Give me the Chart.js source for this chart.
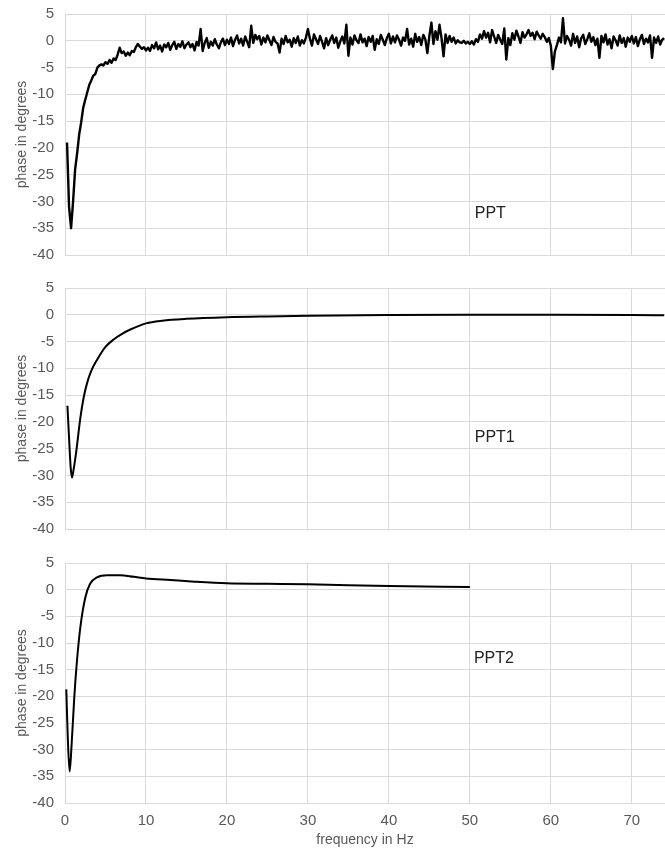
<!DOCTYPE html>
<html><head><meta charset="utf-8">
<script src="https://cdn.jsdelivr.net/npm/chart.js@4.4.1/dist/chart.umd.min.js"></script>
<style>
html,body{margin:0;padding:0;background:#fff;width:665px;height:852px;overflow:hidden}
canvas{position:absolute;left:0}
</style></head>
<body>
<canvas id="c1" style="top:0px" width="665" height="270"></canvas>
<canvas id="c2" style="top:270px" width="665" height="275"></canvas>
<canvas id="c3" style="top:545px" width="665" height="307"></canvas>
<script>
// ---------- data ----------
const panelNames = ['PPT', 'PPT1', 'PPT2'];
const yAxisTitle = 'phase in degrees';
const xAxisTitle = 'frequency in Hz';
const xTickLabels = ['0', '10', '20', '30', '40', '50', '60', '70'];

// PPT (measured, noisy): sampled every 0.25 Hz starting at 0.25 Hz
const pptFirstFreq = 0.25;
const pptFreqStep = 0.25;
const pptPhase = [
  -19, -31, -35, -30, -24, -21, -17.5, -15.2, -12.5, -11, -9.6, -8.2, -7.4, -6.5, -6.2, -5, -4.6, -4.4, -4.6, -4.0,
  -4.3, -3.6, -4.1, -3.3, -3.6, -2.6, -1.3, -2.3, -2.0, -2.8, -2.2, -2.7, -1.9, -2.1, -1.2, -0.6, -1.1, -1.5, -1.2, -1.8,
  -1.3, -1.9, -0.8, -1.4, -0.3, -1.6, -0.9, -2.0, -0.7, -1.2, -0.4, -1.7, -0.8, -0.2, -1.5, -0.6, -1.1, -0.1, -1.4, -0.7,
  -0.3, -1.2, -0.6, -1.8, -0.2, -0.9, 2.2, -1.9, -0.4, 0.5, -1.3, -0.2, -0.9, 0.3, -0.7, -1.4, -0.3, 0.4, -0.8, 0.2,
  -0.6, 0.6, -1.0, 0.2, 1.0, -0.5, 0.4, -0.9, 0.8, -0.2, -1.2, 2.8, -0.4, 1.1, 0.3, 0.9, -0.7, 0.6, -0.3, 1.0,
  0.1, -0.8, 0.7, -0.2, -0.5, -2.2, 0.4, -0.6, 0.9, -0.3, 0.2, -1.1, 0.5, -0.4, 0.8, -0.9, 0.1, -0.5, 0.6, 2.2,
  0.4, -0.9, 1.2, 0.3, -0.6, 0.9, -0.2, -1.4, 0.5, -0.8, 0.2, 1.0, -0.4, 0.6, -1.3, -0.1, 0.8, -0.5, 3.0, -2.8,
  0.6, -0.7, 1.0, 0.1, -0.4, 1.2, -0.3, 0.4, -1.0, 0.7, -0.2, 0.9, -1.7, 0.3, -0.6, 1.1, 0.2, -0.8, 0.5, 1.3,
  -0.5, 0.8, -0.3, 1.0, 0.2, -0.9, 0.6, 0.0, 2.2, -0.7, 0.4, -1.1, 1.3, -0.2, 0.7, -0.8, 1.1, 0.3, -2.3, 0.9,
  3.4, -0.6, 1.8, 0.2, 3.0, 0.5, -2.9, 1.2, -0.4, 0.9, -0.2, 0.6, -0.5, 0.1, -0.3, -0.4, 0.0, -0.5, -0.2, -0.6,
  -0.1, -0.7, 0.3, -0.2, 1.2, 0.4, 1.8, 0.6, 1.5, -0.3, 2.0, 0.8, -0.4, 1.1, 0.2, -0.6, 2.3, -3.5, 0.5, -0.8,
  1.4, 0.2, 1.9, 0.8, -0.4, 1.6, 0.6, 1.2, 2.0, 0.9, 1.5, 0.3, 1.7, 1.0, 0.4, 1.3, 0.7, -0.2, 0.5, -0.9,
  -5.3, -2.0, -0.8, 0.6, -0.3, 4.2, -0.5, 0.9, 0.2, -0.9, 1.3, -0.4, 0.8, -1.2, 0.5, 1.1, -0.6, 0.3, 1.4, -0.2,
  0.7, -0.8, 0.4, -3.2, 0.9, -0.3, 1.2, -0.7, 0.3, -1.4, 0.8, 0.1, -0.9, 1.0, -0.4, 0.5, -1.1, 0.6, -0.2, 0.9,
  -0.5, 0.7, -1.0, 0.3, 1.1, -0.6, 0.4, -0.3, 1.0, -3.2, 0.6, -0.4, 0.8, -0.7, 0.2, 0.5
];

// PPT1 (smooth model)
const ppt1Freq  = [0.3, 0.5, 0.7, 0.86, 1.05, 1.4, 1.9, 2.3, 2.7, 3.2, 4.0, 5.0, 6.0, 7.0, 8.0, 10, 12, 15, 20, 25, 30, 40, 50, 60, 70, 74];
const ppt1Phase = [-17, -23, -28.5, -30.4, -29, -25.4, -19.2, -15.5, -12.9, -10.6, -8.3, -6.0, -4.6, -3.6, -2.8, -1.6, -1.1, -0.75, -0.45, -0.3, -0.2, -0.05, 0.0, 0.0, -0.05, -0.1];

// PPT2 (smooth model, up to 50 Hz)
const ppt2Freq  = [0.16, 0.35, 0.57, 0.8, 1.15, 1.48, 1.89, 2.5, 3.1, 3.95, 5.2, 6.8, 8.5, 10, 13, 16, 20, 25, 30, 40, 50];
const ppt2Phase = [-18.7, -28, -34.1, -29.5, -20.1, -13.3, -7.1, -1.5, 1.1, 2.3, 2.7, 2.7, 2.4, 2.1, 1.8, 1.5, 1.2, 1.1, 1.0, 0.7, 0.5];

// panel label anchors in data units (frequency, phase)
const labelFreq  = [50.6, 50.6, 50.5];
const labelPhase = [-32.3, -23.0, -12.9];

// ---------- styling / layout ----------
const FONT = '"Liberation Sans", Arial, Helvetica, sans-serif';
const TEXT = '#595959';
const GRID = '#d9d9d9';
const X_MIN = 0, X_MAX = 74.1;
const Y_MIN = -40, Y_MAX = 5, Y_STEP = 5;
Chart.defaults.font.family = FONT;

const pptFreq = pptPhase.map((_, i) => +(pptFirstFreq + i * pptFreqStep).toFixed(2));

function toPoints(xs, ys) { return xs.map((x, i) => ({ x: x, y: ys[i] })); }

const labelPlugin = {
  id: 'panelLabel',
  afterDatasetsDraw(chart, args, opts) {
    const { ctx, scales } = chart;
    ctx.save();
    ctx.font = '16px ' + FONT;
    ctx.fillStyle = '#222222';
    ctx.textAlign = 'left';
    ctx.textBaseline = 'middle';
    ctx.fillText(opts.text, scales.x.getPixelForValue(opts.x), scales.y.getPixelForValue(opts.y));
    ctx.restore();
  }
};

function zeroPad(s) { s.paddingTop = 0; s.paddingBottom = 0; s.paddingLeft = 0; s.paddingRight = 0; }

function makePanel(id, idx, points, lineWidth, smooth, showX, padTop, xHeight) {
  return new Chart(document.getElementById(id), {
    type: 'line',
    data: {
      datasets: [{
        data: points,
        borderColor: '#000000',
        borderWidth: lineWidth,
        pointRadius: 0,
        fill: false,
        tension: 0,
        borderJoinStyle: 'round',
        cubicInterpolationMode: smooth ? 'monotone' : 'default'
      }]
    },
    options: {
      responsive: false,
      animation: false,
      events: [],
      layout: { padding: { top: padTop, left: 0, right: 0, bottom: 0 } },
      plugins: {
        legend: { display: false },
        tooltip: { enabled: false },
        panelLabel: { text: panelNames[idx], x: labelFreq[idx], y: labelPhase[idx] }
      },
      scales: {
        x: {
          type: 'linear',
          min: X_MIN, max: X_MAX,
          border: { display: false },
          grid: { color: GRID, lineWidth: 1, drawTicks: false },
          ticks: {
            display: showX,
            stepSize: 10,
            includeBounds: false,
            padding: 9,
            color: TEXT,
            font: { size: 15 },
            maxRotation: 0,
            callback: (v) => xTickLabels[Math.round(v / 10)] ?? ''
          },
          title: { display: showX, text: xAxisTitle, color: TEXT, font: { size: 14 }, padding: { top: 0, bottom: 3 } },
          afterFit: (s) => { s.height = xHeight; zeroPad(s); }
        },
        y: {
          min: Y_MIN, max: Y_MAX,
          border: { display: false },
          grid: { color: GRID, lineWidth: 1, drawTicks: false },
          ticks: { stepSize: Y_STEP, padding: 11, color: TEXT, font: { size: 15 } },
          title: { display: true, text: yAxisTitle, color: TEXT, font: { size: 14 }, padding: { top: 14, bottom: 0 } },
          afterFit: (s) => { s.width = 65; zeroPad(s); }
        }
      }
    },
    plugins: [labelPlugin]
  });
}

makePanel('c1', 0, toPoints(pptFreq, pptPhase), 2.4, false, false, 14, 15);
makePanel('c2', 1, toPoints(ppt1Freq, ppt1Phase), 2, true, false, 18, 16);
makePanel('c3', 2, toPoints(ppt2Freq, ppt2Phase), 2, true, true, 18, 49);
</script>
</body></html>
